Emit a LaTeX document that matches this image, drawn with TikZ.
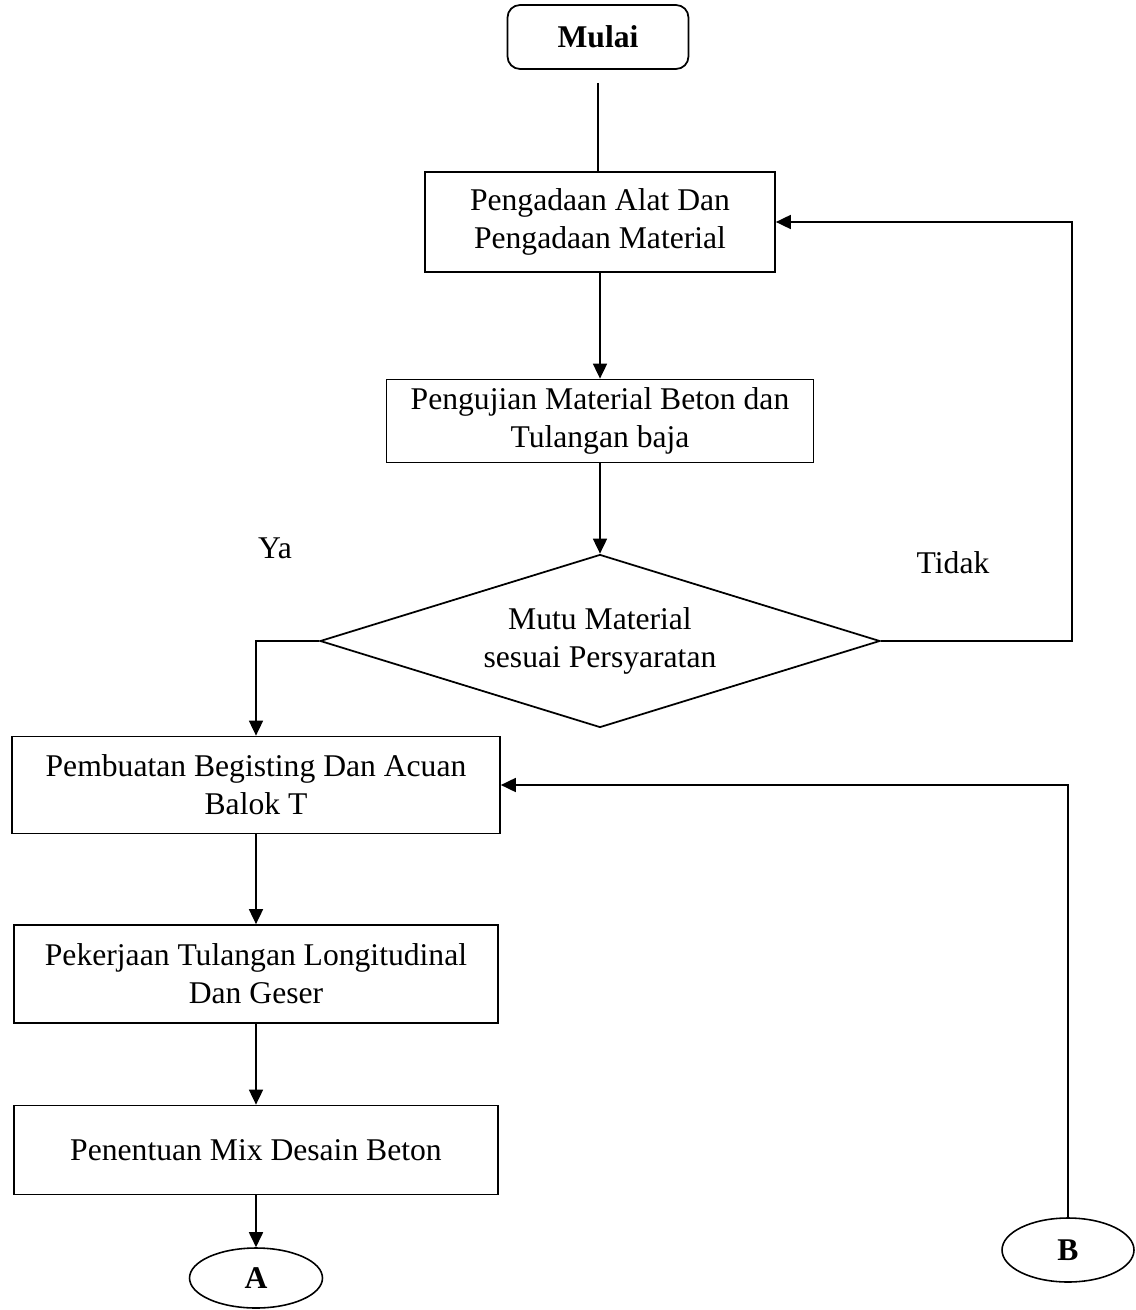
\documentclass[tikz,border=0pt]{standalone}
\usepackage{fontspec}
\setmainfont{Liberation Serif}
\usetikzlibrary{shapes.geometric,arrows.meta}

\begin{document}
\begin{tikzpicture}[x=0.02cm,y=-0.02cm,
  font=\fontsize{18}{21.5}\selectfont,
  box/.style={draw,line width=1pt,align=center,inner sep=0pt},
  arr/.style={-{Triangle[length=0.3cm,width=0.28cm]},line width=1pt},
  conn/.style={draw,ellipse,line width=0.9pt,inner sep=0pt,font=\fontsize{18}{21.5}\selectfont\bfseries}]
\useasboundingbox (0,0) rectangle (1135,1310);
\node [box,rounded corners=0.25cm,minimum width=3.62cm,minimum height=1.28cm,font=\fontsize{18}{21.5}\selectfont\bfseries] (mulai) at (598,37) {Mulai};
\node [box,minimum width=7cm,minimum height=2cm] (alat) at (600,222) {Pengadaan Alat Dan\\Pengadaan Material};
\node [box,minimum width=8.54cm,minimum height=1.66cm] (uji) at (600,421) {Pengujian Material Beton dan\\Tulangan baja};
\node [box,diamond,aspect=3.24,minimum width=11.2cm,minimum height=3.46cm] (mutu) at (600,641) {Mutu Material\\sesuai Persyaratan};
\node (ya) at (275,548) {Ya};
\node (tidak) at (953,563) {Tidak};
\node [box,minimum width=9.76cm,minimum height=1.94cm] (begist) at (256,785) {Pembuatan Begisting Dan Acuan\\Balok T};
\node [box,minimum width=9.68cm,minimum height=1.96cm] (tul) at (256,974) {Pekerjaan Tulangan Longitudinal\\Dan Geser};
\node [box,minimum width=9.68cm,minimum height=1.78cm] (mix) at (256,1150) {Penentuan Mix Desain Beton};
\node [conn,minimum width=2.66cm,minimum height=1.2cm] (a) at (256,1278) {A};
\node [conn,minimum width=2.64cm,minimum height=1.28cm] (b) at (1068,1250) {B};
\draw [line width=1pt,shorten <=0.26cm] (mulai.south) -- (mulai.south |- alat.north);
\draw [arr] (alat) -- (uji);
\draw [arr] (uji) -- (mutu);
\draw [arr] (mutu.east) -- ++(191,0) |- (alat.east);
\draw [arr] (mutu.west) -| (begist.north);
\draw [arr] (b.north) |- (begist.east);
\draw [arr] (begist) -- (tul);
\draw [arr] (tul) -- (mix);
\draw [arr] (mix) -- (a);
\end{tikzpicture}
\end{document}
